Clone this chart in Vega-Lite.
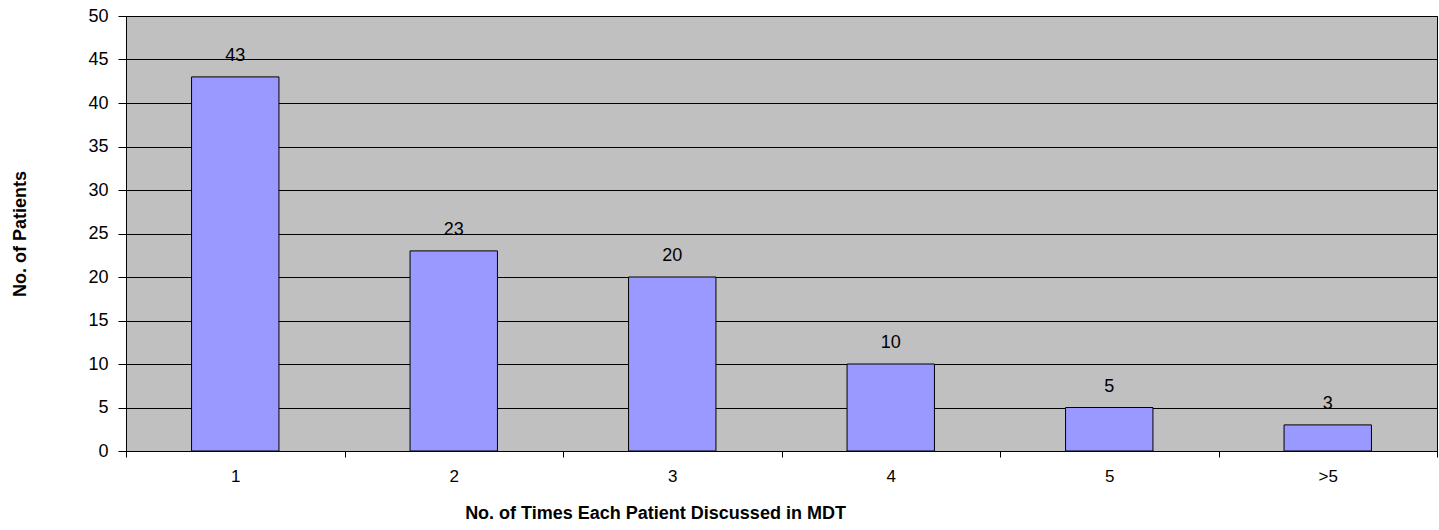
{
  "$schema": "https://vega.github.io/schema/vega-lite/v6.json",
  "width": 1311,
  "height": 435,
  "autosize": {"type": "none"},
  "padding": {"left": 126, "top": 16, "right": 2, "bottom": 79},
  "background": "#ffffff",
  "config": {
    "view": {"fill": "#C0C0C0", "stroke": "#000000", "strokeWidth": 1},
    "font": "Liberation Sans"
  },
  "data": {
    "values": [
      {"times": "1", "patients": 43},
      {"times": "2", "patients": 23},
      {"times": "3", "patients": 20},
      {"times": "4", "patients": 10},
      {"times": "5", "patients": 5},
      {"times": ">5", "patients": 3}
    ]
  },
  "encoding": {
    "x": {
      "field": "times",
      "type": "nominal",
      "sort": null,
      "scale": {"paddingInner": 0, "paddingOuter": 0},
      "axis": {
        "title": "No. of Times Each Patient  Discussed  in MDT",
        "titleFont": "Liberation Sans",
        "titleFontSize": 18,
        "titleFontWeight": "bold",
        "titleColor": "#000000",
        "titlePadding": 20,
        "titleX": 529,
        "titleAlign": "center",
        "labelAngle": 0,
        "labelFontSize": 17,
        "labelColor": "#000000",
        "labelPadding": 11,
        "tickBand": "extent",
        "tickSize": 6,
        "tickColor": "#000000",
        "domainColor": "#000000",
        "grid": false
      }
    },
    "y": {
      "field": "patients",
      "type": "quantitative",
      "scale": {"domain": [0, 50], "nice": false},
      "axis": {
        "title": "No. of Patients",
        "titleFont": "Liberation Sans",
        "titleFontSize": 18,
        "titleFontWeight": "bold",
        "titleColor": "#000000",
        "titlePadding": 58,
        "values": [0, 5, 10, 15, 20, 25, 30, 35, 40, 45, 50],
        "labelFontSize": 18,
        "labelColor": "#000000",
        "labelPadding": 10,
        "tickSize": 8,
        "tickColor": "#000000",
        "domainColor": "#000000",
        "grid": true,
        "gridColor": "#000000",
        "gridOpacity": 1,
        "gridWidth": 1
      }
    }
  },
  "layer": [
    {
      "mark": {"type": "bar", "width": {"band": 0.4}, "fill": "#9999FF", "stroke": "#000000", "strokeWidth": 1}
    },
    {
      "mark": {"type": "text", "baseline": "bottom", "dy": -12, "fontSize": 18, "color": "#000000", "font": "Liberation Sans"},
      "encoding": {"text": {"field": "patients", "type": "quantitative"}}
    }
  ]
}
